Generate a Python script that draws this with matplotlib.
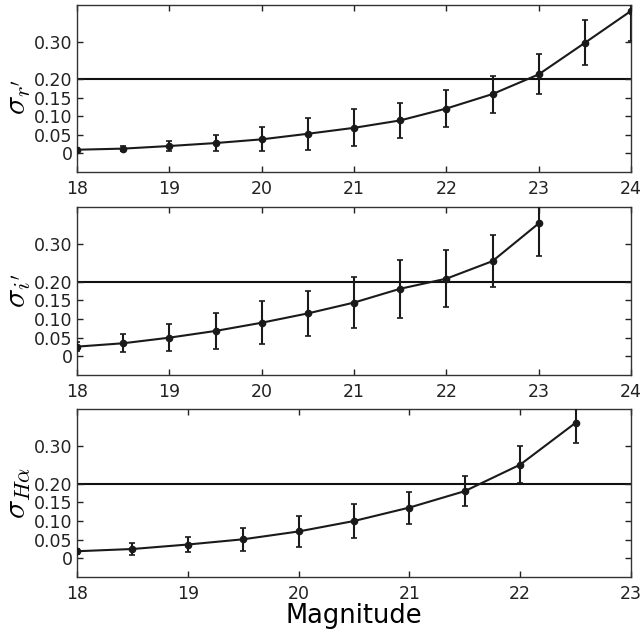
import matplotlib
matplotlib.use("Agg")
import matplotlib.pyplot as plt

plt.rcParams['mathtext.fontset'] = 'cm'
plt.rcParams['font.family'] = 'DejaVu Sans'

# Panel 1: r'
mag_r = [18.0, 18.5, 19.0, 19.5, 20.0, 20.5, 21.0, 21.5, 22.0, 22.5, 23.0, 23.5, 24.0]
sig_r = [0.010, 0.013, 0.020, 0.028, 0.038, 0.053, 0.069, 0.089, 0.121, 0.160, 0.213, 0.298, 0.384]
err_r = [0.005, 0.007, 0.014, 0.021, 0.032, 0.043, 0.050, 0.048, 0.049, 0.050, 0.054, 0.061, 0.080]

# Panel 2: i'
mag_i = [18.0, 18.5, 19.0, 19.5, 20.0, 20.5, 21.0, 21.5, 22.0, 22.5, 23.0]
sig_i = [0.026, 0.035, 0.050, 0.068, 0.090, 0.115, 0.144, 0.181, 0.208, 0.255, 0.356]
err_i = [0.013, 0.024, 0.036, 0.049, 0.058, 0.061, 0.068, 0.077, 0.077, 0.069, 0.086]

# Panel 3: H-alpha
mag_h = [18.0, 18.5, 19.0, 19.5, 20.0, 20.5, 21.0, 21.5, 22.0, 22.5]
sig_h = [0.019, 0.025, 0.037, 0.051, 0.072, 0.100, 0.136, 0.180, 0.251, 0.363]
err_h = [0.007, 0.015, 0.021, 0.031, 0.042, 0.046, 0.043, 0.040, 0.049, 0.053]

ytick_vals = [0, 0.05, 0.10, 0.15, 0.20, 0.30]
ytick_labels = ['0', '0.05', '0.10', '0.15', '0.20', '0.30']
threshold = 0.20

panels = [
    (mag_r, sig_r, err_r, r"$\sigma_{r'}$", (18, 24), list(range(18, 25)), 0.45),
    (mag_i, sig_i, err_i, r"$\sigma_{i'}$", (18, 24), list(range(18, 25)), 0.5),
    (mag_h, sig_h, err_h, r"$\sigma_{H\alpha}$", (18, 23), list(range(18, 24)), 0.5),
]

fig = plt.figure(figsize=(6.44, 6.33), dpi=100)
W, H = 644.0, 633.0
boxes = [(5, 172), (207, 375), (409, 577)]
left, right = 77, 631

for (mag, sig, err, lab, xl, xt, ly), (top, bot) in zip(panels, boxes):
    ax = fig.add_axes([left / W, 1 - bot / H, (right - left) / W, (bot - top) / H])
    ax.axhline(threshold, color='#111111', lw=1.5, zorder=1)
    ax.errorbar(mag, sig, yerr=err, fmt='-o', color='#1a1a1a', ms=4.5, lw=1.5,
                elinewidth=1.5, capsize=2.3, capthick=1.2, zorder=3, clip_on=True)
    ax.set_xlim(*xl)
    ax.set_ylim(-0.05, 0.40)
    ax.set_xticks(xt)
    ax.set_yticks(ytick_vals)
    ax.set_yticklabels(ytick_labels)
    ax.tick_params(direction='in', top=True, right=True, length=4, width=1,
                   labelsize=12.5, pad=6, colors='#222222')
    ax.tick_params(axis='y', pad=3)
    for s in ax.spines.values():
        s.set_color('#333333')
        s.set_linewidth(1.0)
    ax.set_ylabel(lab, fontsize=23)
    ax.yaxis.set_label_coords(-0.080, ly)

ax.set_xlabel('Magnitude', fontsize=18.5, labelpad=-0.5)

fig.savefig('out.png', dpi=100, facecolor='white')
